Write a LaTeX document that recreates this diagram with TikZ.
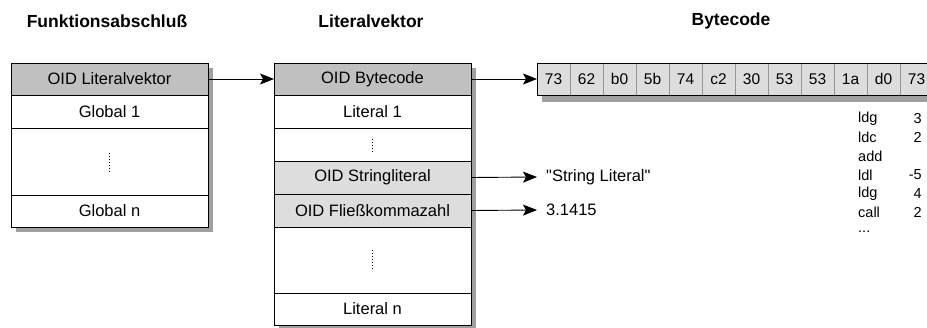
\documentclass[tikz,border=0pt]{standalone}
\usepackage{fontspec}
\setmainfont{Liberation Sans}
\usetikzlibrary{calc,arrows.meta,backgrounds}
\definecolor{oiddark}{RGB}{192,192,192}
\definecolor{oidlight}{RGB}{221,221,221}
\definecolor{schatten}{RGB}{160,160,160}
\definecolor{trenner}{RGB}{150,150,150}
\newcommand{\weiter}{...}

\begin{document}
\begin{tikzpicture}[x=1pt, y=-1pt,
	zeile/.style={draw, line width=0.9pt, rectangle, minimum width=197pt, inner sep=0pt, outer sep=0pt, anchor=north west, font=\fontsize{16.5}{19}\selectfont},
	zelle/.style={draw=trenner, line width=0.8pt, fill=oidlight, rectangle, minimum width=33pt, minimum height=32pt, inner sep=0pt, outer sep=0pt, anchor=north west, font=\fontsize{15.5}{18}\selectfont},
	titel/.style={font=\fontsize{17.5}{20}\selectfont\bfseries, inner sep=0pt},
	befehl/.style={font=\fontsize{14.5}{16}\selectfont, inner sep=0pt},
	wert/.style={font=\fontsize{16.5}{19}\selectfont, anchor=west, inner ysep=0pt, inner xsep=9pt},
	pfeil/.style={line width=0.9pt, -{Stealth[length=14pt, width=11pt, inset=3pt]}},
	punkte/.style={line width=1.1pt, dash pattern=on 1pt off 2pt}]
	%%%%% START %%%%%
	
	\useasboundingbox (0,0) rectangle (927,327);
	
	% ueberschriften
	\node[titel] (tfa) at (107,21) {Funktionsabschluß};
	\node[titel] (tlv) at (371,21) {Literalvektor};
	\node[titel] (tbc) at (731,21) {Bytecode};
	
	% funktionsabschluss
	\node[zeile, fill=oiddark, minimum height=32pt] (fa0) at (11,63) {OID Literalvektor};
	\node[zeile, fill=white, minimum height=33pt] (fa1) at (fa0.south west) {Global 1};
	\node[zeile, fill=white, minimum height=67pt] (fadots) at (fa1.south west) {};
	\node[zeile, fill=white, minimum height=32pt] (fan) at (fadots.south west) {Global n};
	\draw[punkte] ($(fadots.center)+(0,-9)$) -- ($(fadots.center)+(0,10)$);
	
	% literalvektor
	\node[zeile, fill=oiddark, minimum height=32pt] (lv0) at (274,63) {OID Bytecode};
	\node[zeile, fill=white, minimum height=33pt] (lv1) at (lv0.south west) {Literal 1};
	\node[zeile, fill=white, minimum height=33pt] (lvdots1) at (lv1.south west) {};
	\node[zeile, fill=oidlight, minimum height=33pt] (lvstr) at (lvdots1.south west) {OID Stringliteral};
	\node[zeile, fill=oidlight, minimum height=33pt] (lvflt) at (lvstr.south west) {OID Fließkommazahl};
	\node[zeile, fill=white, minimum height=66pt] (lvdots2) at (lvflt.south west) {};
	\node[zeile, fill=white, minimum height=32pt] (lvn) at (lvdots2.south west) {Literal n};
	\draw[punkte] ($(lvdots1.center)+(0,-6)$) -- ($(lvdots1.center)+(0,7)$);
	\draw[punkte] ($(lvdots2.center)+(0,-10)$) -- ($(lvdots2.center)+(0,11)$);
	
	% bytecode
	\foreach \b [count=\i] in {73,62,b0,5b,74,c2,30,53,53,1a,d0,73}
		\node[zelle] (bc\i) at ({537+33*(\i-1)},63) {\b};
	\draw[line width=0.9pt] (bc1.north west) rectangle (bc12.south east);
	
	\foreach \op/\arg [count=\k] in {ldg/3, ldc/2, add/, ldl/-5, ldg/4, call/2, \weiter/} {
		\node[befehl, anchor=west] (op\k) at (858,{118.5+18.8*(\k-1)}) {\op};
		\node[befehl, anchor=east] (arg\k) at (922,{118.5+18.8*(\k-1)}) {\arg};
	}
	
	% werte
	\node[wert] (strlit) at (537,177) {\textquotedbl String Literal\textquotedbl};
	\node[wert] (fltval) at (537,210) {3.1415};
	
	% schatten
	\begin{scope}[on background layer]
		\fill[schatten] ($(fa0.north west)+(5,5)$) rectangle ($(fan.south east)+(5,5)$);
		\fill[schatten] ($(lv0.north west)+(5,5)$) rectangle ($(lvn.south east)+(5,5)$);
		\fill[schatten] ($(bc1.north west)+(5,7)$) rectangle ($(bc12.south east)+(5,7)$);
	\end{scope}
	
	% pfeile
	\draw[pfeil] (fa0.east) -- (lv0.west);
	\draw[pfeil] (lv0.east) -- (bc1.west);
	\draw[pfeil] (lvstr.east) -- (strlit.west);
	\draw[pfeil] (lvflt.east) -- (fltval.west);
	
	%%%%% END %%%%%
\end{tikzpicture}
\end{document}
